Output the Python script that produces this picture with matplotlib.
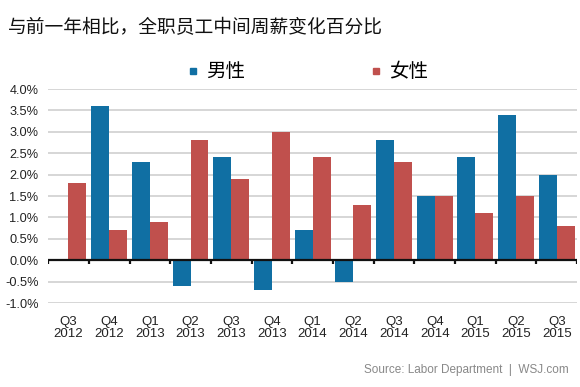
import matplotlib.pyplot as plt
from matplotlib.lines import Line2D
import numpy as np

plt.rcParams['font.family'] = ['Noto Sans CJK SC', 'DejaVu Sans']

# Data
quarters = ['Q3\n2012', 'Q4\n2012', 'Q1\n2013', 'Q2\n2013', 'Q3\n2013', 'Q4\n2013', 'Q1\n2014',
            'Q2\n2014', 'Q3\n2014', 'Q4\n2014', 'Q1\n2015', 'Q2\n2015', 'Q3\n2015']
men = [0.0, 3.6, 2.3, -0.6, 2.4, -0.7, 0.7, -0.5, 2.8, 1.5, 2.4, 3.4, 2.0]
women = [1.8, 0.7, 0.9, 2.8, 1.9, 3.0, 2.4, 1.3, 2.3, 1.5, 1.1, 1.5, 0.8]
y_ticks = [-1.0, -0.5, 0.0, 0.5, 1.0, 1.5, 2.0, 2.5, 3.0, 3.5, 4.0]

blue = '#106fa3'
red = '#c0504d'

fig = plt.figure(figsize=(5.8, 3.87), dpi=100)
ax = fig.add_axes([0.083, 0.217, 0.912, 0.553])

x = np.arange(len(quarters))
w = 0.44
ax.bar(x - w / 2, men, width=w, color=blue, zorder=3)
ax.bar(x + w / 2, women, width=w, color=red, zorder=3)

ax.set_xlim(-0.5, len(quarters) - 0.5)
ax.set_ylim(-1.0, 4.0)
ax.set_yticks(y_ticks)
ax.set_yticklabels(['%.1f%%' % v for v in y_ticks], fontsize=9.2, family='Liberation Sans')
ax.set_xticks(x)
ax.set_xticklabels(quarters, fontsize=9.5, family='Liberation Sans', linespacing=1.1)
ax.tick_params(axis='both', length=0, colors='#222222')
ax.tick_params(axis='x', pad=9)
ax.tick_params(axis='y', pad=7)

ax.grid(axis='y', color='#d0d0d0', linewidth=1.2, zorder=0)
for s in ax.spines.values():
    s.set_visible(False)

# zero line with category ticks
ax.axhline(0, color='#111111', linewidth=1.6, zorder=4)
ax.vlines(np.arange(len(quarters) + 1) - 0.5, -0.08, 0, color='#111111', linewidth=1.6, zorder=4)

fig.text(0.013, 0.928, '与前一年相比，全职员工中间周薪变化百分比', fontsize=13.5, va='center', color='#111111')

handles = [Line2D([], [], linestyle='none', marker='s', markersize=4.5, color=blue),
           Line2D([], [], linestyle='none', marker='s', markersize=4.5, color=red)]
leg = fig.legend(handles, ['男性', '女性'], loc='center', bbox_to_anchor=(0.533, 0.814), ncol=2,
                 frameon=False, fontsize=14, handlelength=0.3, columnspacing=6.6,
                 handletextpad=0.5)

fig.text(0.981, 0.044, 'Source: Labor Department  |  WSJ.com', fontsize=8.5, color='#888888',
         ha='right', va='center', family='Liberation Sans')

plt.savefig('out.png', dpi=100)
